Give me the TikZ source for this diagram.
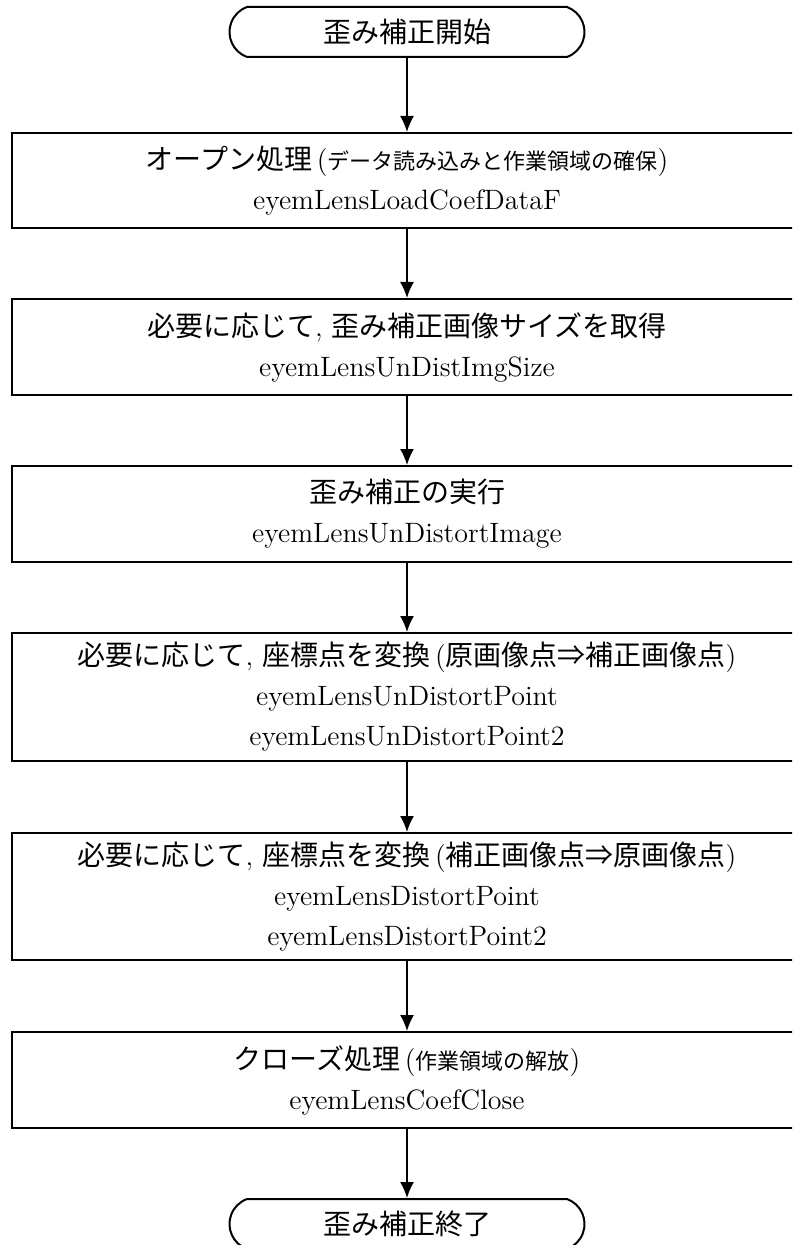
\documentclass[tikz,border=0pt]{standalone}
\usepackage{fontspec}
\newfontfamily\jp{Noto Sans CJK JP}
\usetikzlibrary{shapes.misc,arrows.meta}

\tikzset{
    term/.style={draw, line width=1pt, rounded rectangle, rounded rectangle arc length=140,
        minimum width=177.5pt, minimum height=25pt, inner sep=0pt,
        font=\jp\fontsize{14}{20}\selectfont},
    proc/.style={draw, line width=1pt, minimum width=395pt, inner sep=0pt, align=center,
        font=\fontsize{14}{20}\selectfont},
    flow/.style={line width=0.8pt, -{Latex[length=8pt,width=7pt]}}
}

\begin{document}
\begin{tikzpicture}[x=0.5pt,y=-0.5pt]
    \clip (0,0) rectangle (792,1245);

    \node[term] (start) at (407,32) {歪み補正開始};
    \node[proc, minimum height=47.5pt] (open) at (407,180.5)
        {{\jp オープン処理}\,({\jp\fontsize{11}{20}\selectfont データ読み込みと作業領域の確保})\\eyemLensLoadCoefDataF};
    \node[proc, minimum height=48pt] (size) at (407,347)
        {{\jp 必要に応じて}, {\jp 歪み補正画像サイズを取得}\\eyemLensUnDistImgSize};
    \node[proc, minimum height=48pt] (undist) at (407,514)
        {{\jp 歪み補正の実行}\\eyemLensUnDistortImage};
    \node[proc, minimum height=64pt] (fwd) at (407,697)
        {{\jp 必要に応じて}, {\jp 座標点を変換}\,({\jp 原画像点⇒補正画像点})\\eyemLensUnDistortPoint\\eyemLensUnDistortPoint2};
    \node[proc, minimum height=63.5pt] (inv) at (407,896.5)
        {{\jp 必要に応じて}, {\jp 座標点を変換}\,({\jp 補正画像点⇒原画像点})\\eyemLensDistortPoint\\eyemLensDistortPoint2};
    \node[proc, minimum height=48pt] (close) at (407,1080)
        {{\jp クローズ処理}\,({\jp\fontsize{11}{20}\selectfont 作業領域の解放})\\eyemLensCoefClose};
    \node[term] (stop) at (407,1224) {歪み補正終了};

    \draw[flow] (start) -- (open);
    \draw[flow] (open) -- (size);
    \draw[flow] (size) -- (undist);
    \draw[flow] (undist) -- (fwd);
    \draw[flow] (fwd) -- (inv);
    \draw[flow] (inv) -- (close);
    \draw[flow] (close) -- (stop);
\end{tikzpicture}
\end{document}
